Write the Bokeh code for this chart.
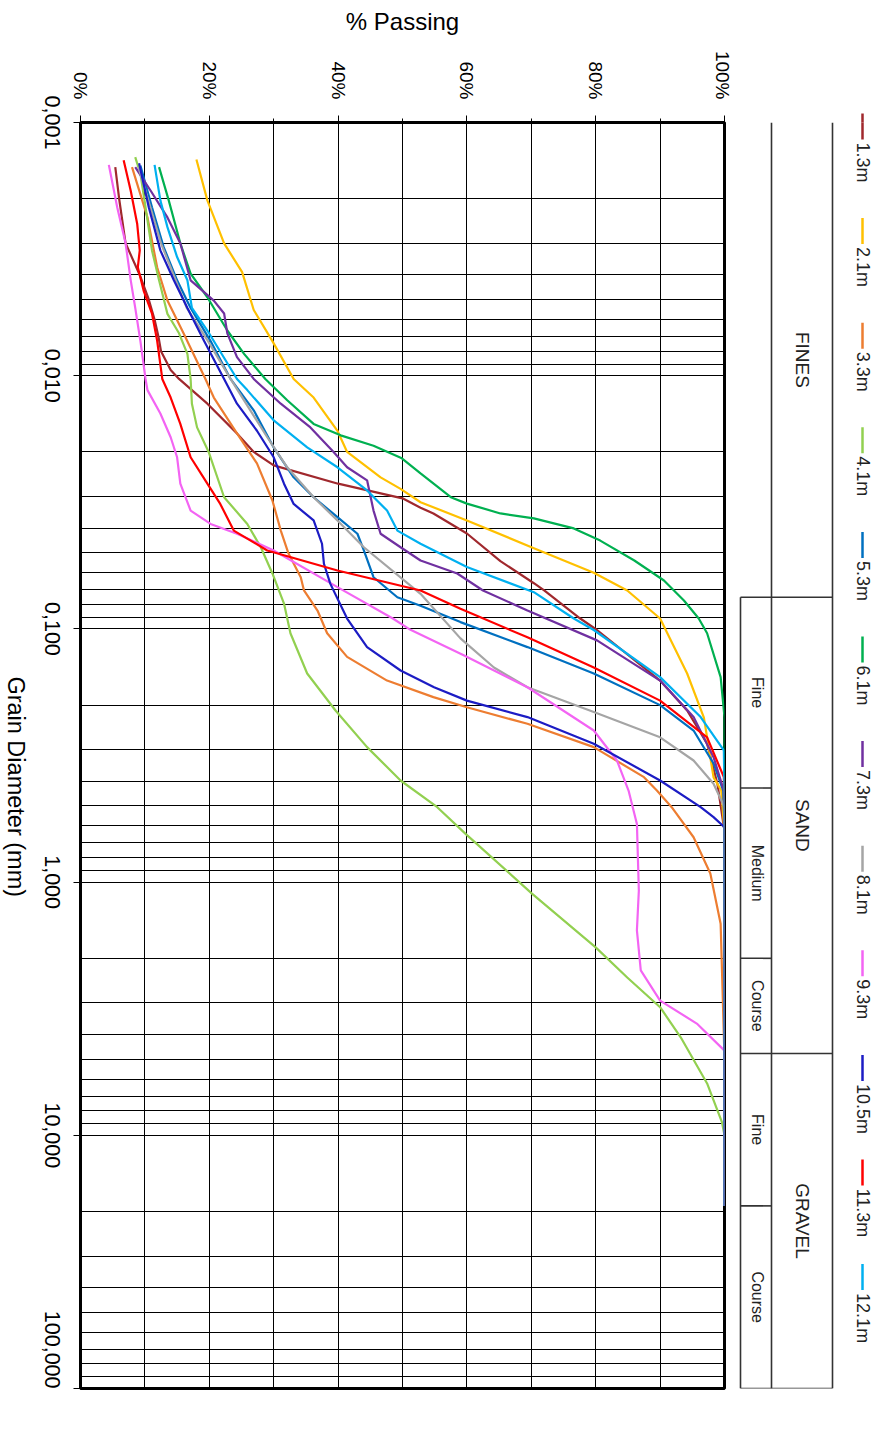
import math
from bokeh.plotting import figure
from bokeh.layouts import row
from bokeh.models import Range1d, FixedTicker, LogAxis, LinearAxis
from bokeh.core.properties import value
from bokeh.embed import file_html
from bokeh.resources import INLINE

# ---------------- data (grain diameter in mm, % passing) ----------------
dia_1_3 = [0.0015, 0.002, 0.003, 0.004, 0.005, 0.006, 0.007, 0.008, 0.0095, 0.0103, 0.0129, 0.0169, 0.020,
           0.0226, 0.0267, 0.0305, 0.0332, 0.035, 0.042, 0.054, 0.066, 0.0705, 0.091, 0.101, 0.16, 0.21,
           0.284, 0.409, 0.63, 19]
pct_1_3 = [5.4, 6.0, 7.0, 9.2, 10.6, 11.5, 12.1, 12.5, 14.0, 15.3, 19.7, 24.3, 26.9,
           30.0, 40.0, 50.0, 52.8, 54.8, 60.0, 65.2, 70.4, 72.0, 77.6, 80.2, 90.0, 94.2,
           97.3, 98.9, 100, 100]

dia_2_1 = [0.0014, 0.00203, 0.003, 0.0039, 0.0055, 0.0073, 0.0103, 0.0122, 0.0165, 0.020, 0.0252, 0.028,
           0.0316, 0.0373, 0.048, 0.060, 0.0705, 0.091, 0.15, 0.224, 0.386, 0.435, 0.63, 19]
pct_2_1 = [18.0, 19.7, 22.3, 25.1, 26.9, 29.8, 33.1, 36.2, 39.9, 41.4, 46.6, 49.7,
           52.8, 60.0, 70.4, 79.7, 84.9, 90.0, 94.2, 96.8, 98.3, 99.5, 100, 100]

dia_3_3 = [0.0015, 0.00237, 0.00373, 0.00505, 0.0068, 0.0103, 0.0122, 0.0169, 0.0222, 0.0311, 0.0409,
           0.0504, 0.0625, 0.0705, 0.0846, 0.104, 0.129, 0.16, 0.186, 0.204, 0.237, 0.293, 0.385, 0.435,
           0.506, 0.665, 0.925, 1.46, 2.68, 5.0, 19]
pct_3_3 = [8.0, 10.4, 11.9, 13.5, 16.0, 19.4, 20.7, 24.3, 27.4, 29.8, 31.1,
           32.3, 34.2, 34.7, 36.8, 38.3, 41.4, 47.6, 54.8, 60.0, 69.4, 79.7, 87.5, 89.5,
           91.8, 95.2, 97.8, 99.4, 99.7, 100, 100]

dia_4_1 = [0.00137, 0.00159, 0.00216, 0.0032, 0.0042, 0.0057, 0.0068, 0.0082, 0.0103, 0.0129, 0.016, 0.020,
           0.0302, 0.0385, 0.0476, 0.0604, 0.0794, 0.104, 0.150, 0.21, 0.293, 0.397, 0.506, 0.645, 1.11,
           1.81, 2.38, 3.12, 4.10, 6.24, 8.87, 10.0, 19]
pct_4_1 = [8.5, 9.3, 10.1, 11.1, 12.2, 13.5, 15.3, 16.6, 17.1, 17.3, 18.1, 19.9,
           22.3, 25.9, 28.0, 29.8, 31.6, 32.6, 35.2, 39.6, 44.5, 49.7, 55.4, 59.8, 70.1,
           80.0, 84.9, 90.0, 93.2, 97.3, 99.6, 100, 100]

dia_5_3 = [0.00148, 0.00216, 0.0031, 0.0042, 0.0054, 0.0073, 0.0103, 0.0137, 0.0192, 0.0252, 0.0302,
           0.0362, 0.0421, 0.049, 0.0625, 0.075, 0.081, 0.094, 0.118, 0.150, 0.20, 0.252, 0.34, 0.435, 0.6, 19]
pct_5_3 = [9.3, 11.1, 12.9, 15.0, 17.1, 20.2, 23.3, 26.9, 30.0, 33.1, 36.2,
           39.9, 43.0, 44.0, 45.5, 49.2, 52.8, 59.0, 69.4, 79.7, 90.0, 95.2, 98.3, 99.8, 100, 100]

dia_6_1 = [0.0015, 0.00203, 0.003, 0.00395, 0.0049, 0.00663, 0.0082, 0.0103, 0.0125, 0.0155, 0.0172,
           0.0189, 0.0212, 0.0243, 0.0302, 0.032, 0.035, 0.0366, 0.0401, 0.0448, 0.0537, 0.0644, 0.0772,
           0.091, 0.104, 0.155, 0.223, 19]
pct_6_1 = [12.2, 13.7, 15.5, 17.1, 19.7, 22.8, 25.4, 28.7, 32.1, 36.2, 40.4,
           45.5, 49.9, 52.8, 57.5, 60.0, 65.2, 70.4, 76.6, 80.7, 86.0, 90.6, 93.7,
           96.0, 97.3, 99.4, 100, 100]

dia_7_3 = [0.0015, 0.00186, 0.00237, 0.003, 0.0042, 0.00505, 0.00568, 0.0068, 0.00845, 0.0103, 0.0129,
           0.016, 0.020, 0.023, 0.0259, 0.0341, 0.0421, 0.0476, 0.0537, 0.0604, 0.0705, 0.0846, 0.111,
           0.16, 0.223, 0.321, 0.435, 0.6, 19]
pct_7_3 = [8.5, 10.9, 13.5, 15.5, 17.1, 20.7, 22.3, 22.8, 24.3, 26.9, 31.1,
           35.7, 39.3, 41.4, 44.5, 45.5, 46.6, 49.7, 52.8, 58.5, 62.5, 69.4, 80.2,
           90.0, 95.2, 98.3, 99.9, 100, 100]

dia_8_1 = [0.0015, 0.003, 0.0054, 0.0073, 0.0103, 0.0175, 0.023, 0.0302, 0.0373, 0.0476, 0.0727, 0.109,
           0.142, 0.17, 0.213, 0.268, 0.331, 0.409, 0.506, 19]
pct_8_1 = [9.0, 12.5, 16.5, 19.8, 23.3, 29.0, 32.1, 36.2, 39.9, 44.0, 52.8, 59.0,
           64.2, 69.4, 79.7, 90.0, 95.2, 98.3, 100, 100]

dia_9_3 = [0.00147, 0.00216, 0.003, 0.0042, 0.0054, 0.0073, 0.0103, 0.0114, 0.0141, 0.0175, 0.021, 0.0267,
           0.0341, 0.0385, 0.0421, 0.049, 0.0684, 0.091, 0.1, 0.127, 0.17, 0.252, 0.331, 0.435, 0.589,
           1.08, 1.55, 2.23, 2.94, 3.62, 4.63, 19]
pct_9_3 = [4.4, 5.7, 7.0, 7.8, 8.5, 9.3, 10.1, 10.4, 12.4, 14.0, 15.0, 15.5,
           17.1, 20.2, 24.3, 30.0, 39.9, 48.5, 51.0, 59.5, 69.4, 79.7, 83.3, 85.1, 86.4,
           86.7, 86.4, 87.0, 90.0, 95.7, 100, 100]

dia_10_5 = [0.00145, 0.00216, 0.0032, 0.0042, 0.0054, 0.0073, 0.0103, 0.0129, 0.0165, 0.021, 0.0267,
            0.0321, 0.0373, 0.0461, 0.0553, 0.0664, 0.091, 0.118, 0.146, 0.17, 0.192, 0.223, 0.284,
            0.397, 0.506, 0.554, 0.607, 19]
pct_10_5 = [9.1, 10.6, 12.4, 14.5, 16.6, 19.2, 22.3, 24.3, 27.4, 30.0, 31.6,
            33.1, 36.2, 37.5, 37.8, 38.8, 41.4, 44.5, 49.7, 54.9, 60.0, 69.4, 79.7,
            90.0, 96.3, 98.3, 100, 100]

dia_11_3 = [0.00141, 0.00186, 0.00251, 0.0032, 0.00373, 0.00461, 0.00568, 0.00726, 0.0103, 0.0122,
            0.0155, 0.021, 0.0267, 0.0321, 0.0409, 0.049, 0.0588, 0.0705, 0.0833, 0.108, 0.142, 0.192,
            0.268, 0.385, 0.5, 19]
pct_11_3 = [6.7, 7.8, 8.8, 9.2, 8.9, 9.8, 11.1, 11.9, 12.7, 14.0,
            15.5, 17.1, 19.7, 21.7, 23.8, 29.0, 39.9, 52.8, 59.0, 69.4, 79.7, 90.0,
            97.3, 99.9, 100, 100]

dia_12_1 = [0.00147, 0.00203, 0.00259, 0.0034, 0.0042, 0.0054, 0.00663, 0.0103, 0.0114, 0.015, 0.0192,
            0.023, 0.0284, 0.0341, 0.0409, 0.0461, 0.057, 0.0716, 0.091, 0.101, 0.155, 0.223, 0.302, 0.45, 19]
pct_12_1 = [11.5, 12.4, 13.5, 15.0, 16.6, 17.3, 19.7, 24.3, 25.9, 30.0, 35.2,
            39.9, 44.5, 47.6, 49.2, 52.8, 60.0, 70.4, 76.6, 79.7, 90.0, 96.3, 99.9, 100, 100]

depth_labels = ["1.3m", "2.1m", "3.3m", "4.1m", "5.3m", "6.1m",
                "7.3m", "8.1m", "9.3m", "10.5m", "11.3m", "12.1m"]
series_colors = ["#A0282D", "#FFC000", "#ED7D31", "#92D050", "#0070C0", "#00B050",
                 "#7030A0", "#A5A5A5", "#F364F3", "#1C1CC4", "#FF0000", "#00B0F0"]
series = [(dia_1_3, pct_1_3), (dia_2_1, pct_2_1), (dia_3_3, pct_3_3), (dia_4_1, pct_4_1),
          (dia_5_3, pct_5_3), (dia_6_1, pct_6_1), (dia_7_3, pct_7_3), (dia_8_1, pct_8_1),
          (dia_9_3, pct_9_3), (dia_10_5, pct_10_5), (dia_11_3, pct_11_3), (dia_12_1, pct_12_1)]

x_ticks = [0, 20, 40, 60, 80, 100]
x_tick_labels = ["0%", "20%", "40%", "60%", "80%", "100%"]
x_minor = [10, 30, 50, 70, 90]
y_ticks = [0.001, 0.01, 0.1, 1, 10, 100]
y_tick_labels = ["0,001", "0,010", "0,100", "1,000", "10,000", "100,000"]
x_title = "% Passing"
y_title = "Grain Diameter (mm)"
y_title_center = 0.42   # mm, where the rotated title is centred

# soil classification table (boundaries in mm)
fines_top, fines_sand, sand_gravel, table_bottom = 0.001, 0.075, 4.75, 100
sub_bounds = [0.425, 2.0, 19.0]
main_classes = ["FINES", "SAND", "GRAVEL"]
main_class_spans = [(0.001, 0.075), (0.075, 4.75), (4.75, 100)]
sub_classes = ["Fine", "Medium", "Course", "Fine", "Course"]
sub_class_spans = [(0.075, 0.425), (0.425, 2.0), (2.0, 4.75), (4.75, 19.0), (19.0, 100)]

# ---------------- layout constants ----------------
FONT = "Liberation Sans"
FIG_H = 1428
TOP, BOTTOM = 122, 40
FRAME_H = FIG_H - TOP - BOTTOM
PX_PER_DECADE = FRAME_H / math.log10(y_ticks[-1] / y_ticks[0])
LEFT_W = 29          # strip holding the y-axis title
FRAME_LEFT = 80      # page x of the plot frame
# Liberation Sans advance widths (em) used to centre the rotated left-axis labels on their ticks
CHAR_W = {"0": .556, "1": .556, ",": .278}


def half_len(s, size):
    return sum(CHAR_W.get(c, .556) for c in s) * size / 2


Y_LABEL_SIZE = 21.5
TITLE_SIZE = 23.5

# ---------------- y-axis title strip ----------------
yt = figure(width=LEFT_W, height=FIG_H, x_range=Range1d(0, LEFT_W), y_range=Range1d(100, 0.001),
            y_axis_type="log", x_axis_location=None, y_axis_location=None,
            output_backend="svg", toolbar_location=None, min_border_top=TOP,
            min_border_bottom=BOTTOM, min_border_left=0, min_border_right=0,
            outline_line_color=None)
yt.grid.visible = False
yt.text(x=[15], y=[y_title_center], text=[y_title], angle=-math.pi / 2,
        text_align="center", text_baseline="middle", text_font=value(FONT),
        text_font_size=f"{TITLE_SIZE}px", text_color="black")

# ---------------- main plot ----------------
p = figure(width=732 - LEFT_W, height=FIG_H, x_range=Range1d(0, 100), y_range=yt.y_range,
           y_axis_type="log", x_axis_location="above", output_backend="svg",
           toolbar_location=None, min_border_left=FRAME_LEFT - LEFT_W, min_border_right=8,
           min_border_top=TOP, min_border_bottom=BOTTOM)
p.outline_line_color = "black"
p.outline_line_width = 3
p.outline_line_alpha = 1

# x axis (top)
p.xaxis.ticker = FixedTicker(ticks=x_ticks, minor_ticks=x_minor)
p.xaxis.major_label_overrides = dict(zip(x_ticks, x_tick_labels))
p.xaxis.major_label_orientation = -math.pi / 2
p.xaxis.major_label_text_font = FONT
p.xaxis.major_label_text_font_size = "19px"
p.xaxis.major_label_text_color = "black"
p.xaxis.major_label_standoff = 16
p.xaxis.major_tick_out = 7
p.xaxis.major_tick_in = 0
p.xaxis.minor_tick_out = 4
p.xaxis.minor_tick_in = 0
p.xaxis.major_tick_line_color = "black"
p.xaxis.minor_tick_line_color = "black"
p.xaxis.axis_line_color = "black"
p.xaxis.axis_line_width = 3
p.xaxis.axis_label = x_title
p.xaxis.axis_label_text_font = FONT
p.xaxis.axis_label_text_font_size = "24px"
p.xaxis.axis_label_text_font_style = "normal"
p.xaxis.axis_label_text_color = "black"
p.xaxis.axis_label_standoff = 13

# y axis (left): tick marks only
minor_y = [m * t for t in y_ticks[:-1] for m in range(2, 10)]
p.yaxis.ticker = FixedTicker(ticks=y_ticks, minor_ticks=minor_y)
p.yaxis.major_label_overrides = {tk: "" for tk in y_ticks}
p.yaxis.major_label_text_font_size = "1px"
p.yaxis.major_label_standoff = 0
p.yaxis.major_tick_out = 7
p.yaxis.major_tick_in = 0
p.yaxis.major_tick_line_color = "black"
p.yaxis.minor_tick_line_color = None
p.yaxis.axis_line_color = "black"
p.yaxis.axis_line_width = 3

# y tick labels: rotated (reading downward) and centred on their ticks
label_pos = [min(tk * 10 ** (half_len(s, Y_LABEL_SIZE) / PX_PER_DECADE), y_ticks[-1])
             for tk, s in zip(y_ticks, y_tick_labels)]
ylab_axis = LogAxis(ticker=FixedTicker(ticks=label_pos),
                    major_label_overrides=dict(zip(label_pos, y_tick_labels)),
                    major_label_orientation=-math.pi / 2, major_label_standoff=21,
                    major_label_text_font=FONT, major_label_text_font_size=f"{Y_LABEL_SIZE}px",
                    major_label_text_color="black", major_tick_line_color=None,
                    major_tick_out=0, major_tick_in=0,
                    minor_tick_line_color=None, axis_line_color=None)
p.add_layout(ylab_axis, "left")

p.grid.grid_line_color = "black"
p.grid.grid_line_alpha = 1
p.grid.grid_line_width = 1
p.xgrid.minor_grid_line_color = "black"
p.ygrid.minor_grid_line_color = "black"
p.xgrid.minor_grid_line_width = 1
p.ygrid.minor_grid_line_width = 1

for (d, pc), col in zip(series, series_colors):
    p.line(pc, d, line_color=col, line_width=2.2)

# ---------------- classification table ----------------
t = figure(width=108, height=FIG_H, x_range=Range1d(732, 840), y_range=p.y_range,
           y_axis_type="log", x_axis_location=None, y_axis_location=None,
           output_backend="svg", toolbar_location=None, min_border_top=TOP,
           min_border_bottom=BOTTOM, min_border_left=0, min_border_right=0,
           outline_line_color=None)
t.grid.visible = False
xl, xm, xr = 740, 771, 832
seg_x0 = [xm, xr, xl, xl, xl, xl] + [xl] * len(sub_bounds)
seg_x1 = [xm, xr, xl, xr, xr, xr] + [xm] * len(sub_bounds)
seg_y0 = [fines_top, fines_top, fines_sand, fines_sand, sand_gravel, table_bottom] + sub_bounds
seg_y1 = [table_bottom, table_bottom, table_bottom, fines_sand, sand_gravel, table_bottom] + sub_bounds
t.segment(seg_x0, seg_y0, seg_x1, seg_y1, line_color="#333333", line_width=1.6)
t.text(x=[(xm + xr) / 2] * 3, y=[math.sqrt(a * b) for a, b in main_class_spans], text=main_classes,
       angle=-math.pi / 2, text_align="center", text_baseline="middle",
       text_font=value(FONT), text_font_size="19px", text_color="#222222")
t.text(x=[(xl + xm) / 2 + 1] * 5, y=[math.sqrt(a * b) for a, b in sub_class_spans], text=sub_classes,
       angle=-math.pi / 2, text_align="center", text_baseline="middle",
       text_font=value(FONT), text_font_size="16px", text_color="#222222")

# ---------------- legend ----------------
lg = figure(width=36, height=FIG_H, x_range=Range1d(840, 876), y_range=Range1d(FIG_H - BOTTOM, TOP),
            x_axis_location=None, y_axis_location=None, output_backend="svg",
            toolbar_location=None, min_border_top=TOP, min_border_bottom=BOTTOM,
            min_border_left=0, min_border_right=0, outline_line_color=None)
lg.grid.visible = False
leg_x = 862
leg_top = [113 + 104.6 * i for i in range(len(depth_labels))]
lg.segment([leg_x] * 12, leg_top, [leg_x] * 12, [y + 26 for y in leg_top],
           line_color=series_colors, line_width=2.5)
# the first legend swatch pokes above the frame: draw that part as a tick mark
first_sw = LinearAxis(ticker=FixedTicker(ticks=[leg_x]), major_label_overrides={leg_x: ""},
                      major_label_text_font_size="1px", major_label_standoff=0,
                      major_tick_out=int(TOP - leg_top[0]), major_tick_in=0,
                      major_tick_line_color=series_colors[0], major_tick_line_width=2.5,
                      minor_tick_line_color=None, axis_line_color=None)
lg.add_layout(first_sw, "above")
lg.text(x=[leg_x] * 12, y=[y + 29 for y in leg_top], text=depth_labels, angle=-math.pi / 2,
        text_align="left", text_baseline="middle", text_font=value(FONT),
        text_font_size="18px", text_color="#222222")

layout = row(yt, p, t, lg)
open("out.html", "w").write(file_html(layout, INLINE))
